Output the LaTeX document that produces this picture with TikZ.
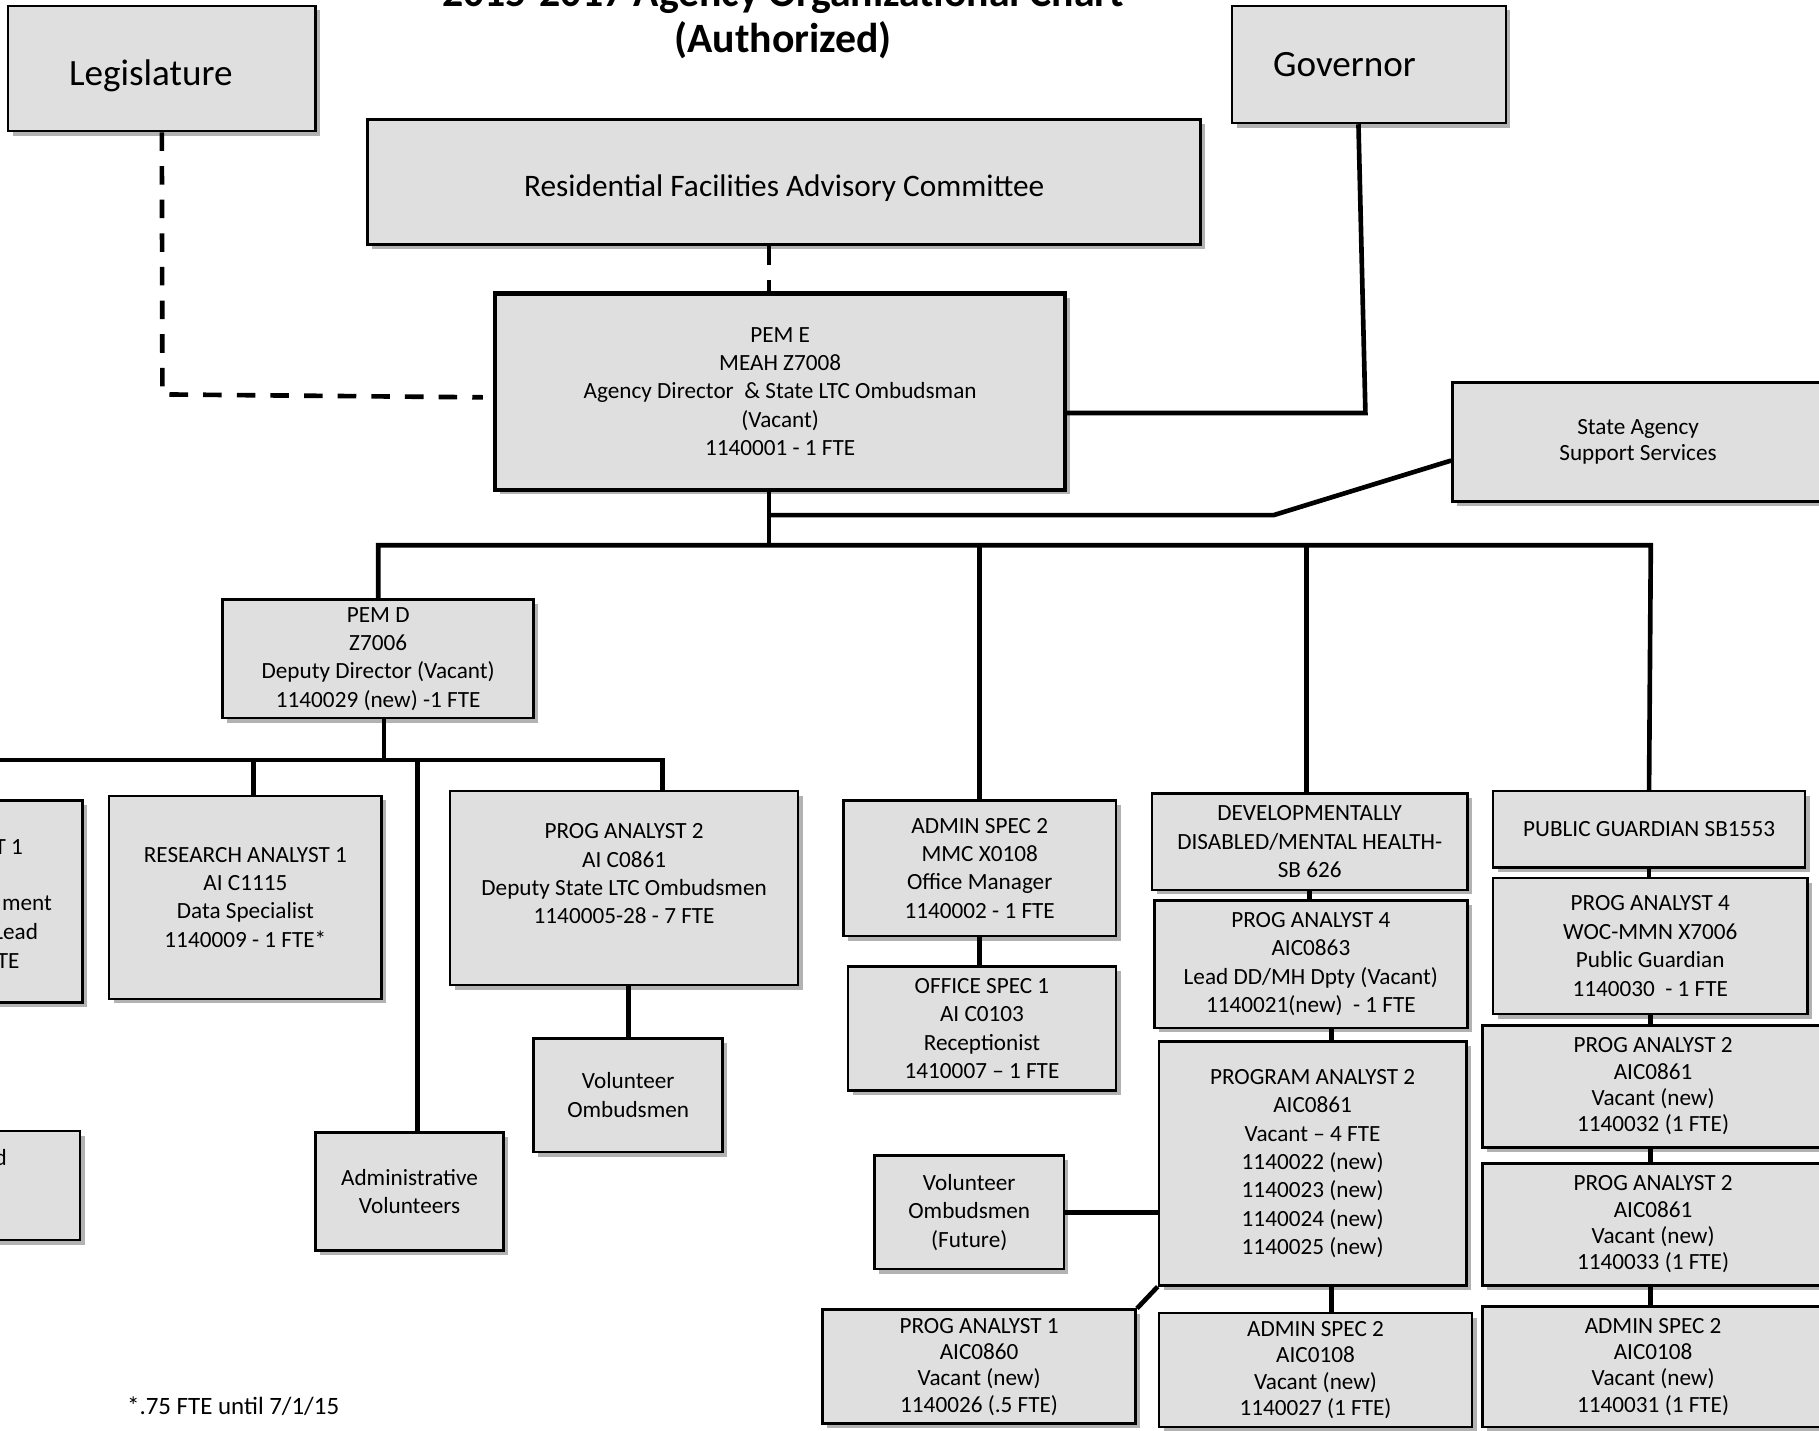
\documentclass[tikz,border=0pt]{standalone}
\usepackage{fontspec}
\setmainfont{Carlito}
\usetikzlibrary{shadows}
\definecolor{boxgray}{RGB}{223,223,223}
\begin{document}
\begin{tikzpicture}[x=1pt,y=-1pt,
  box/.style={draw, line width=2.2pt, fill=boxgray, align=center, inner sep=0pt,
    drop shadow={shadow xshift=4pt, shadow yshift=-4pt, fill=black, opacity=0.3},
    font=\fontsize{20}{24.5}\selectfont},
  tight/.style={font=\fontsize{20}{22.7}\selectfont},
  big/.style={font=\fontsize{32}{38}\selectfont},
  conn/.style={line width=4pt},
  dashln/.style={line width=4pt, dash pattern=on 16pt off 13pt},
  frag/.style={anchor=base east, inner sep=0pt, font=\fontsize{20}{24.5}\selectfont}]
\useasboundingbox (0,0) rectangle (1568,1233);

% titles
\node[anchor=base, inner sep=0pt, font=\bfseries\fontsize{36}{42}\selectfont] (title1) at (675,6) {2015-2017 Agency Organizational Chart};
\node[anchor=base, inner sep=0pt, font=\bfseries\fontsize{36}{42}\selectfont] (title2) at (675,45) {(Authorized)};

% top boxes
\node[box, big, minimum width=265pt, minimum height=108pt] (leg) at (139.5,59) {\raisebox{-6pt}[\height][\depth]{Legislature\kern19pt}};
\node[box, big, minimum width=236pt, minimum height=101pt] (gov) at (1180,55.5) {Governor\kern42pt};
\node[box, font=\fontsize{27}{32}\selectfont, minimum width=718pt, minimum height=108pt] (rfac) at (676,157) {\raisebox{-5pt}[\height][\depth]{Residential Facilities Advisory Committee}};
\node[box, line width=3.5pt, minimum width=491pt, minimum height=169pt] (peme) at (672.5,337.5)
  {PEM E\\MEAH Z7008\\Agency Director~ \& State LTC Ombudsman\\(Vacant)\\1140001 - 1 FTE};
\node[box, tight, minimum width=320pt, minimum height=103pt] (sass) at (1412,381) {State Agency\\Support Services};

% second level
\node[box, minimum width=268pt, minimum height=102pt] (pemd) at (326,568) {PEM D\\Z7006\\Deputy Director (Vacant)\\1140029 (new) -1 FTE};

% left cut boxes
\node[box, minimum width=241pt, minimum height=174pt] (lcut1) at (-49.5,777) {};
\node[frag] (f1) at (20,737) {T 1};
\node[frag] (f2) at (45,785) {ment};
\node[frag] (f3) at (33,810) {Lead};
\node[frag] (f4) at (17,835) {TE};
\node[box, minimum width=239pt, minimum height=94pt] (lcut2) at (-50.5,1022) {};
\node[frag] (f5) at (6,1005) {d};

\node[box, minimum width=235pt, minimum height=175pt] (ra1) at (211.5,773.5) {RESEARCH ANALYST 1\\AI C1115\\Data Specialist\\1140009 - 1 FTE*};
\node[box, minimum width=300pt, minimum height=167pt] (pa2d) at (538,765.5) {PROG ANALYST 2\\AI C0861\\Deputy State LTC Ombudsmen\\1140005-28 - 7 FTE\\\mbox{}};
\node[box, minimum width=163pt, minimum height=98pt] (vol1) at (541.5,944) {Volunteer\\Ombudsmen};
\node[box, minimum width=162pt, minimum height=102pt] (admv) at (353,1027) {Administrative\\Volunteers};

\node[box, minimum width=235pt, minimum height=117pt] (as2a) at (844.5,748.5) {ADMIN SPEC 2\\MMC X0108\\Office Manager\\1140002 - 1 FTE};
\node[box, minimum width=231pt, minimum height=107pt] (os1) at (846.5,886.5) {OFFICE SPEC 1\\AI C0103\\Receptionist\\1410007 – 1 FTE};

\node[box, minimum width=272pt, minimum height=83pt] (dev) at (1129,725.5) {DEVELOPMENTALLY\\DISABLED/MENTAL HEALTH-\\SB 626};
\node[box, minimum width=270pt, minimum height=110pt] (pa4a) at (1130,831) {PROG ANALYST 4\\AIC0863\\Lead DD/MH Dpty (Vacant)\\1140021(new)~ - 1 FTE};
\node[box, minimum width=265pt, minimum height=210pt] (pa2b) at (1131.5,1003) {PROGRAM ANALYST 2\\AIC0861\\Vacant – 4 FTE\\1140022 (new)\\1140023 (new)\\1140024 (new)\\1140025 (new)};
\node[box, minimum width=163pt, minimum height=98pt] (volf) at (835.5,1045) {Volunteer\\Ombudsmen\\(Future)};
\node[box, tight, minimum width=270pt, minimum height=98pt] (pa1) at (844,1178) {PROG ANALYST 1\\AIC0860\\Vacant (new)\\1140026 (.5 FTE)};
\node[box, tight, minimum width=270pt, minimum height=98pt] (as2b) at (1134,1181) {ADMIN SPEC 2\\AIC0108\\Vacant (new)\\1140027 (1 FTE)};

\node[box, minimum width=269pt, minimum height=66pt] (pg) at (1421.5,715) {PUBLIC GUARDIAN SB1553};
\node[box, minimum width=271pt, minimum height=117pt] (pa4b) at (1422.5,815.5) {PROG ANALYST 4\\WOC-MMN X7006\\Public Guardian\\1140030~ - 1 FTE};
\node[box, tight, minimum width=294pt, minimum height=105pt] (pa2c) at (1425,936.5) {PROG ANALYST 2\\AIC0861\\Vacant (new)\\1140032 (1 FTE)};
\node[box, tight, minimum width=294pt, minimum height=105pt] (pa2e) at (1425,1055.5) {PROG ANALYST 2\\AIC0861\\Vacant (new)\\1140033 (1 FTE)};
\node[box, tight, minimum width=294pt, minimum height=104pt] (as2c) at (1425,1178) {ADMIN SPEC 2\\AIC0108\\Vacant (new)\\1140031 (1 FTE)};

% footnote
\node[inner sep=0pt, font=\fontsize{21.5}{26}\selectfont] (foot) at (201,1212) {*.75 FTE until 7/1/15};

% coordinates
\coordinate (legc) at (140,340);
\coordinate (govc) at (1177,356);
\coordinate (sassc) at (1098,444);
\coordinate (pemeb) at (663,422);
\coordinate (bus1) at (663,470);
\coordinate (b1L) at (326,470);
\coordinate (b1R) at (1423,470);
\coordinate (pemdb) at (331,619);
\coordinate (bus2) at (331,655);
\coordinate (b2R) at (571,655);

% connectors
\draw[dashln] (leg.south) -- (legc) -- ([xshift=-9pt,yshift=-5pt]peme.west);
\draw[dashln] ([xshift=-13pt]rfac.south) -- ([xshift=-9.5pt]peme.north);
\draw[conn] ([xshift=-9pt]gov.south) -- (govc) -- (govc -| peme.east);
\draw[conn] ([yshift=-16pt]sass.west) -- (sassc) -- (sassc -| pemeb);
\draw[conn] (pemeb) -- (bus1);
\draw[conn] (pemd.north) -- (b1L) -- (b1R) -- (pg.north);
\draw[conn] (as2a.north |- b1L) -- (as2a.north);
\draw[conn] ([xshift=-3pt]dev.north |- b1L) -- ([xshift=-3pt]dev.north);
\draw[conn] (pemdb) -- (bus2);
\draw[conn] (lcut1.north) |- (b2R) -- (b2R |- pa2d.north);
\draw[conn] ([xshift=7pt]ra1.north |- bus2) -- ([xshift=7pt]ra1.north);
\draw[conn] ([xshift=7pt]admv.north |- bus2) -- ([xshift=7pt]admv.north);
\draw[conn] (vol1.north |- pa2d.south) -- (vol1.north);
\draw[conn] (as2a.south) -- (as2a.south |- os1.north);
\draw[conn] (dev.south) -- (dev.south |- pa4a.north);
\draw[conn] ([xshift=18pt]pa4a.south) -- ([xshift=18pt]pa4a.south |- pa2b.north);
\draw[conn] ([xshift=16.5pt]pa2b.south) -- ([xshift=16.5pt]pa2b.south |- as2b.north);
\draw[conn] (volf.east) -- (volf.east -| pa2b.west);
\draw[conn] (pa2b.south west) -- (pa1.north east);
\draw[conn] (pg.south) -- (pg.south |- pa4b.north);
\draw[conn] (pa4b.south) -- (pa4b.south |- pa2c.north);
\draw[conn] ([xshift=-2pt]pa2c.south) -- ([xshift=-2pt]pa2c.south |- pa2e.north);
\draw[conn] ([xshift=-2pt]pa2e.south) -- ([xshift=-2pt]pa2e.south |- as2c.north);
\end{tikzpicture}
\end{document}
